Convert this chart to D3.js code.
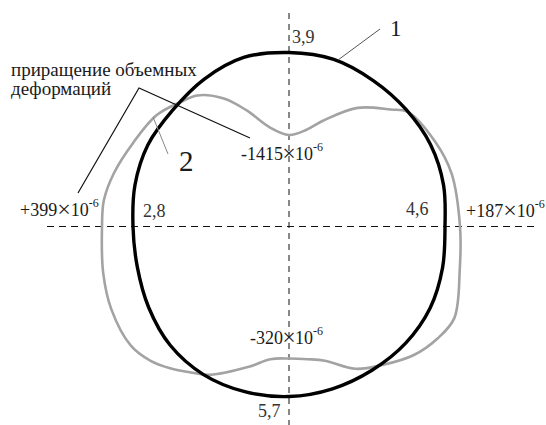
<!DOCTYPE html>
<html>
<head>
<meta charset="utf-8">
<script src="https://cdn.jsdelivr.net/npm/d3@7"></script>
<style>
  html, body { margin: 0; padding: 0; background: #fff; }
  svg { display: block; }
</style>
</head>
<body>
<svg id="chart" width="546" height="425"></svg>
<script>
// Curve 1: angle (deg, counter-clockwise from the right axis) and radius
const curve1Angles = [0, 15, 30, 45, 60, 75, 90, 105, 120, 135, 150, 165, 180, 195, 210, 225, 240, 255, 270, 285, 300, 315, 330, 345];
const curve1Radii  = [156, 160, 163.5, 165.5, 168.5, 173, 174, 175, 170, 164.5, 163, 159.5, 156, 157, 162, 168, 171, 171, 170, 168, 166, 165, 163, 159];

// Curve 2: increment of volumetric strain
const curve2Angles = [0, 18, 30, 44, 49, 60, 72, 80, 90, 101, 110, 117, 125, 131, 140, 152, 163, 172, 180, 194, 205, 217, 224, 230, 236, 242, 254, 262, 270, 278, 285, 295, 304, 314, 323, 331, 346];
const curve2Radii  = [171, 171, 169, 165, 155, 137, 111.5, 98, 91.5, 101, 123.5, 143.6, 160, 165, 173, 177, 183, 187, 187, 191.5, 196, 198, 193, 185, 176, 168, 146, 134, 132, 134, 139, 157, 167, 179, 186, 189, 176];

// Values at the four axis directions (top, right, bottom, left)
const axisDirections = ["top", "right", "bottom", "left"];
const curve1Labels   = ["3,9", "4,6", "5,7", "2,8"];
const strainLabels   = ["-1415", "+187", "-320", "+399"];
const strainExponent = "-6";

const FONT = '"Liberation Serif"';

const svg = d3.select("#chart");
const cx = 289, cy = 226.5;

// Scales: radius in drawing units, angle converted to d3's clockwise-from-top convention
const rScale = d3.scaleLinear().domain([0, 200]).range([0, 200]);
const aScale = d3.scaleLinear().domain([0, 360]).range([Math.PI / 2, Math.PI / 2 - 2 * Math.PI]);

const radial = d3.lineRadial()
  .angle(d => aScale(d.a))
  .radius(d => rScale(d.r))
  .curve(d3.curveCatmullRomClosed.alpha(0.5));

const curve1 = curve1Angles.map((a, i) => ({ a, r: curve1Radii[i] }));
const curve2 = curve2Angles.map((a, i) => ({ a, r: curve2Radii[i] }));

const g = svg.append("g").attr("transform", `translate(${cx},${cy})`);

// Dashed axes
g.append("line")
  .attr("x1", 0).attr("x2", 0).attr("y1", 13 - cy).attr("y2", 425 - cy)
  .attr("stroke", "#111").attr("stroke-width", 1).attr("stroke-dasharray", "6,5");
g.append("line")
  .attr("x1", 47 - cx).attr("x2", 535 - cx).attr("y1", 0).attr("y2", 0)
  .attr("stroke", "#111").attr("stroke-width", 1).attr("stroke-dasharray", "7,5");

// Curve 2 (grey)
g.append("path")
  .datum(curve2)
  .attr("d", radial)
  .attr("fill", "none")
  .attr("stroke", "#a3a3a3")
  .attr("stroke-width", 2.6);

// Curve 1 (black)
g.append("path")
  .datum(curve1)
  .attr("d", radial)
  .attr("fill", "none")
  .attr("stroke", "#000")
  .attr("stroke-width", 3.4);

function txt(x, y, size) {
  return svg.append("text")
    .attr("x", x).attr("y", y)
    .attr("font-size", size)
    .style("font-family", FONT)
    .attr("fill", "#1a1a1a");
}

// Leader lines and numbers for the curves
svg.append("line").attr("x1", 380).attr("y1", 29).attr("x2", 338).attr("y2", 60)
  .attr("stroke", "#555").attr("stroke-width", 1);
txt(390, 36, 23).text("1");

svg.append("line").attr("x1", 168).attr("y1", 154).attr("x2", 153).attr("y2", 117)
  .attr("stroke", "#888").attr("stroke-width", 1);
txt(179, 171, 29).text("2");

// Caption with leader lines
const caption = txt(11, 76, 19);
caption.append("tspan").attr("x", 11).text("приращение объемных");
caption.append("tspan").attr("x", 11).attr("dy", 19).text("деформаций");
svg.append("polyline")
  .attr("points", "78,193 139,88 250,138")
  .attr("fill", "none").attr("stroke", "#111").attr("stroke-width", 1.2);

// Curve 1 values along the axes
const valuePos = {
  top:    { x: 292, y: 43 },
  right:  { x: 406, y: 215 },
  bottom: { x: 258, y: 417 },
  left:   { x: 143, y: 217 }
};
axisDirections.forEach((dir, i) => {
  const p = valuePos[dir];
  txt(p.x, p.y, 18).attr("fill", "#333").text(curve1Labels[i]);
});

// Strain labels "value × 10^-6"
function strainLabel(value, x, y, centred) {
  const fs = 18;
  if (centred) {
    txt(x - 6, y, fs).attr("text-anchor", "end").text(value);
    txt(x, y + 1, 24).attr("text-anchor", "middle").text("×");
    const t = txt(x + 6, y, fs);
    t.append("tspan").text("10");
    t.append("tspan").attr("dy", -9).attr("font-size", 12).text(strainExponent);
  } else {
    const t = txt(x, y, fs);
    t.append("tspan").text(value);
    t.append("tspan").attr("font-size", 24).attr("dy", 1).text("×");
    t.append("tspan").attr("dy", -1).text("10");
    t.append("tspan").attr("dy", -9).attr("font-size", 12).text(strainExponent);
  }
}
const strainPos = {
  top:    { x: cx, y: 160, centred: true },
  right:  { x: 466, y: 217, centred: false },
  bottom: { x: cx, y: 344, centred: true },
  left:   { x: 20, y: 216, centred: false }
};
axisDirections.forEach((dir, i) => {
  const p = strainPos[dir];
  strainLabel(strainLabels[i], p.x, p.y, p.centred);
});
</script>
</body>
</html>
